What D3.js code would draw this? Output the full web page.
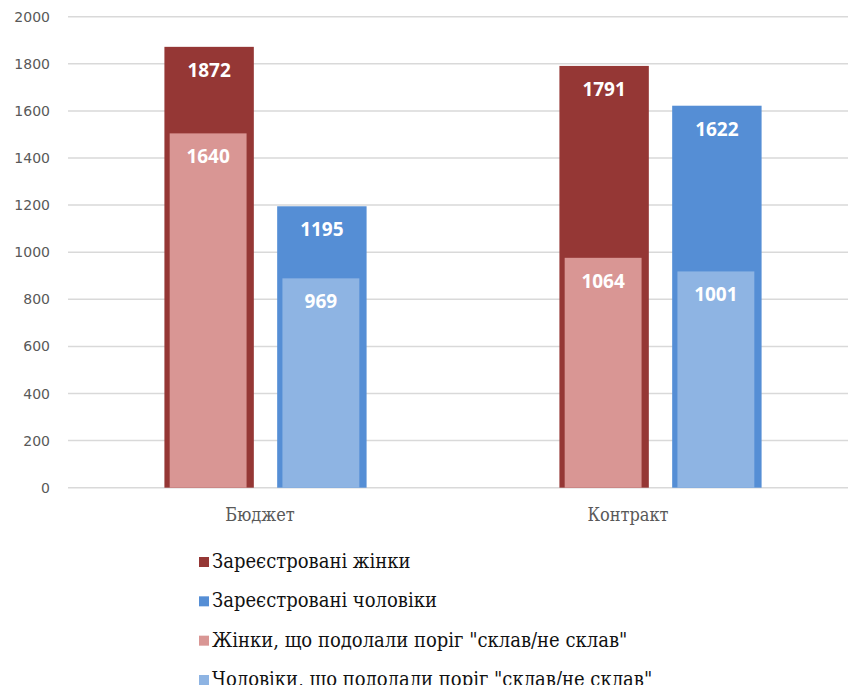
<!DOCTYPE html>
<html>
<head>
<meta charset="utf-8">
<script src="https://cdn.jsdelivr.net/npm/d3@7"></script>
<style>
  body { margin: 0; background: #fff; }
</style>
</head>
<body>
<div class="chart"></div>
<script>
var categories = ["Бюджет", "Контракт"];
var regWomen = [1872, 1791];
var regMen = [1195, 1622];
var passWomen = [1640, 1064];
var passMen = [969, 1001];
var yTicks = [0, 200, 400, 600, 800, 1000, 1200, 1400, 1600, 1800, 2000];
var legendNames = [
  "Зареєстровані жінки",
  "Зареєстровані чоловіки",
  "Жінки, що подолали поріг \"склав/не склав\"",
  "Чоловіки, що подолали поріг \"склав/не склав\""
];
var colors = ["#953735", "#558ed5", "#d99694", "#8eb4e3"];

var width = 848, height = 685;
var serif = "'DejaVu Serif Condensed', 'DejaVu Serif', serif";

var svg = d3.select(".chart").append("svg")
    .attr("width", width)
    .attr("height", height);

var x = d3.scaleBand()
    .domain(categories)
    .range([68, 858]);

var xs = d3.scaleBand()
    .domain(["w", "m"])
    .range([0, x.bandwidth()])
    .paddingInner(0.207)
    .paddingOuter(0.855);

var y = d3.scaleLinear()
    .domain([0, 2000])
    .range([487.7, 16.7]);

// inner bars sit on a hidden secondary axis
var y2 = d3.scaleLinear()
    .domain([0, 2180])
    .range([487.7, 16.7]);

// gridlines
svg.append("g")
  .selectAll("line")
    .data(yTicks)
  .enter().append("line")
    .attr("x1", 68)
    .attr("x2", width)
    .attr("y1", function(d) { return y(d); })
    .attr("y2", function(d) { return y(d); })
    .attr("stroke", "#d9d9d9")
    .attr("stroke-width", 1.5);

svg.selectAll(".ytick")
    .data(yTicks)
  .enter().append("text")
    .attr("class", "ytick")
    .attr("x", 50)
    .attr("y", function(d) { return y(d); })
    .attr("dy", "0.36em")
    .style("font-family", "'DejaVu Sans', sans-serif")
    .style("font-size", "14px")
    .style("fill", "#595959")
    .style("text-anchor", "end")
    .text(function(d) { return d; });

var outer = [];
var inner = [];
categories.forEach(function(c, i) {
  outer.push({cat: c, s: "w", v: regWomen[i], color: colors[0]});
  outer.push({cat: c, s: "m", v: regMen[i], color: colors[1]});
  inner.push({cat: c, s: "w", v: passWomen[i], color: colors[2]});
  inner.push({cat: c, s: "m", v: passMen[i], color: colors[3]});
});

var bw = xs.bandwidth();
var ibw = bw * 0.86;

svg.selectAll(".outer")
    .data(outer)
  .enter().append("rect")
    .attr("class", "outer")
    .attr("x", function(d) { return x(d.cat) + xs(d.s); })
    .attr("width", bw)
    .attr("y", function(d) { return y(d.v); })
    .attr("height", function(d) { return y(0) - y(d.v); })
    .attr("fill", function(d) { return d.color; });

svg.selectAll(".inner")
    .data(inner)
  .enter().append("rect")
    .attr("class", "inner")
    .attr("x", function(d) { return x(d.cat) + xs(d.s) + (bw - ibw) / 2 - 1; })
    .attr("width", ibw)
    .attr("y", function(d) { return y2(d.v); })
    .attr("height", function(d) { return y2(0) - y2(d.v); })
    .attr("fill", function(d) { return d.color; });

function valLabel(sel) {
  sel.style("font-family", "'Open Sans', sans-serif")
    .style("font-weight", "bold")
    .style("font-size", "19px")
    .style("fill", "#fff")
    .style("text-anchor", "middle")
    .text(function(d) { return d.v; });
}

svg.selectAll(".vo")
    .data(outer)
  .enter().append("text")
    .attr("x", function(d) { return x(d.cat) + xs(d.s) + bw / 2; })
    .attr("y", function(d) { return y(d.v) + 30; })
    .call(valLabel);

svg.selectAll(".vi")
    .data(inner)
  .enter().append("text")
    .attr("x", function(d) { return x(d.cat) + xs(d.s) + bw / 2 - 1; })
    .attr("y", function(d) { return y2(d.v) + 30; })
    .call(valLabel);

// category labels
var xl = d3.scalePoint()
    .domain(categories)
    .range([260, 628]);

svg.selectAll(".xlab")
    .data(categories)
  .enter().append("text")
    .attr("x", function(d) { return xl(d); })
    .attr("y", 521)
    .style("font-family", serif)
    .style("font-size", "18px")
    .style("fill", "#595959")
    .style("text-anchor", "middle")
    .text(function(d) { return d; });

// legend
var ly = d3.scalePoint()
    .domain(legendNames)
    .range([562, 680]);

var leg = svg.selectAll(".legrow")
    .data(legendNames)
  .enter().append("g")
    .attr("transform", function(d) { return "translate(199," + ly(d) + ")"; });

leg.append("rect")
    .attr("x", 0)
    .attr("y", -5)
    .attr("width", 10)
    .attr("height", 10)
    .attr("fill", function(d, i) { return colors[i]; });

leg.append("text")
    .attr("x", 13)
    .attr("y", 6)
    .style("font-family", serif)
    .style("font-size", "20px")
    .style("fill", "#111")
    .text(function(d) { return d; });
</script>
</body>
</html>
